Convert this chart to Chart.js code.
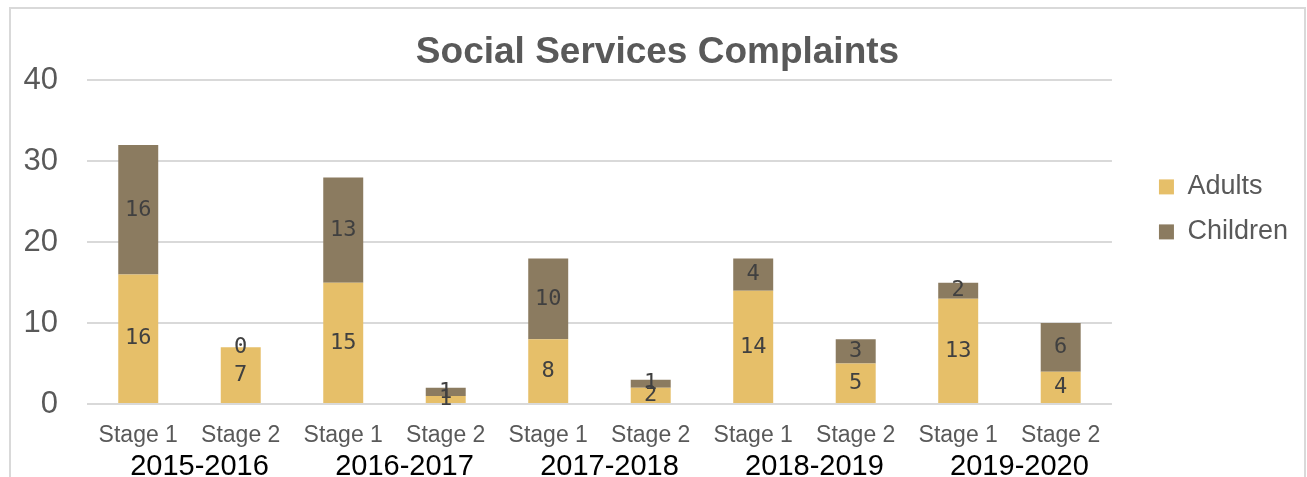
<!DOCTYPE html>
<html>
<head>
<meta charset="utf-8">
<script src="https://cdn.jsdelivr.net/npm/chart.js@4.4.0/dist/chart.umd.min.js"></script>
<style>
  body { margin: 0; background: #fff; }
  #wrap { position: relative; width: 1307px; height: 477px; overflow: hidden; }
  #frame { position: absolute; left: 9px; top: 7px; width: 1297px; height: 500px; border: 2px solid #d9d9d9; box-sizing: border-box; }
  #plot { position: absolute; left: 0; top: 0; }
</style>
</head>
<body>
<div id="wrap">
  <div id="frame"></div>
  <canvas id="plot" width="1307" height="483"></canvas>
</div>
<script>
const stages = ["Stage 1", "Stage 2", "Stage 1", "Stage 2", "Stage 1", "Stage 2", "Stage 1", "Stage 2", "Stage 1", "Stage 2"];
const years = ["2015-2016", "2016-2017", "2017-2018", "2018-2019", "2019-2020"];
const adults = [16, 7, 15, 1, 8, 2, 14, 5, 13, 4];
const children = [16, 0, 13, 1, 10, 1, 4, 3, 2, 6];

const font = "'Liberation Sans', Arial, sans-serif";

// draw the value in the middle of each bar segment
const valueLabels = {
  id: "valueLabels",
  afterDatasetsDraw(chart) {
    const ctx = chart.ctx;
    ctx.save();
    ctx.font = "22px 'DejaVu Sans Mono'";
    ctx.fillStyle = "#404040";
    ctx.textAlign = "center";
    ctx.textBaseline = "middle";
    chart.data.datasets.forEach((ds, i) => {
      const meta = chart.getDatasetMeta(i);
      meta.data.forEach((bar, j) => {
        const p = bar.getProps(["x", "y", "base"], true);
        ctx.fillText(ds.data[j], p.x, (p.y + p.base) / 2);
      });
    });
    ctx.restore();
  },
};

const ctx = document.getElementById("plot").getContext("2d");
new Chart(ctx, {
  type: "bar",
  data: {
    labels: stages,
    datasets: [
      { label: "Adults", data: adults, backgroundColor: "#e6bf69", barPercentage: 0.39, categoryPercentage: 1 },
      { label: "Children", data: children, backgroundColor: "#8b7b60", barPercentage: 0.39, categoryPercentage: 1 },
    ],
  },
  options: {
    responsive: false,
    animation: false,
    layout: { padding: { left: 17, right: 9, top: 28, bottom: 0 } },
    plugins: {
      title: {
        display: true,
        text: "Social Services Complaints",
        color: "#595959",
        font: { family: font, size: 37, weight: "bold" },
        padding: { top: 3, bottom: 5 },
      },
      legend: {
        position: "right",
        align: "start",
        title: { display: true, text: "", padding: { top: 0, bottom: 113 } },
        labels: {
          boxWidth: 15,
          boxHeight: 15,
          color: "#595959",
          font: { family: font, size: 27 },
          padding: 18,
        },
      },
      tooltip: { enabled: false },
    },
    scales: {
      x: {
        stacked: true,
        grid: { display: false, drawTicks: false },
        border: { display: false },
        ticks: { color: "#595959", font: { family: font, size: 23 }, padding: 18, maxRotation: 0 },
        afterFit(scale) { scale.height = 45; },
      },
      x2: {
        type: "category",
        labels: years,
        position: "bottom",
        offset: true,
        grid: { display: false, drawTicks: false },
        border: { display: false },
        ticks: { color: "#000", font: { family: font, size: 29 }, padding: 1, labelOffset: 10, maxRotation: 0 },
        afterFit(scale) { scale.height = 34; },
      },
      y: {
        stacked: true,
        min: 0,
        max: 40,
        ticks: { stepSize: 10, color: "#595959", font: { family: font, size: 31 }, padding: 29 },
        grid: { color: "#d9d9d9", lineWidth: 2, drawTicks: false },
        border: { display: false },
        afterFit(scale) { scale.width = 70; },
      },
      // empty axis, only keeps a gap between the plot and the legend
      gap: {
        type: "linear",
        position: "right",
        grid: { display: false },
        border: { display: false },
        ticks: { display: false },
        afterFit(scale) { scale.width = 29; },
      },
    },
  },
  plugins: [valueLabels],
});
</script>
</body>
</html>
